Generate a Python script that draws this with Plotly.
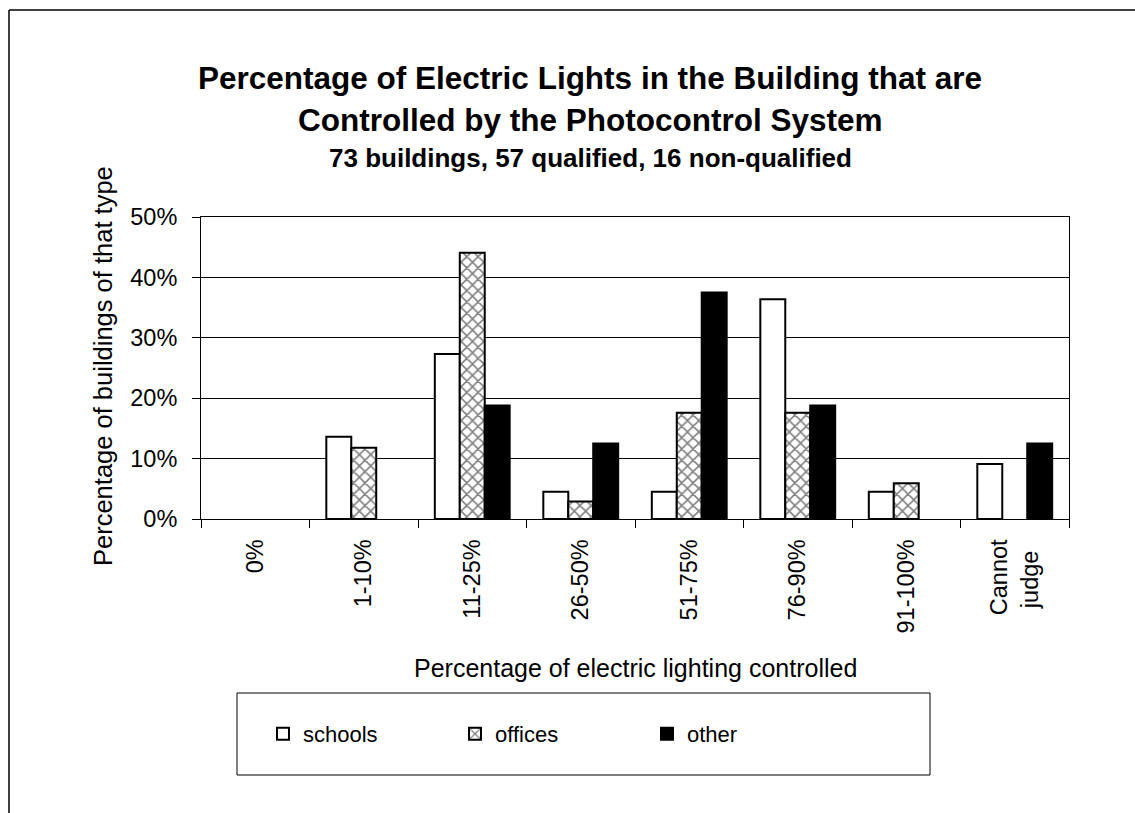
import plotly.graph_objects as go

# Data
categories = ["0%", "1-10%", "11-25%", "26-50%", "51-75%", "76-90%", "91-100%", "Cannot<br>judge"]
schools = [0, 13.6, 27.3, 4.5, 4.5, 36.4, 4.5, 9.1]
offices = [0, 11.8, 44.1, 2.9, 17.6, 17.6, 5.9, 0]
other = [0, 0, 18.8, 12.5, 37.5, 18.8, 0, 12.5]
y_ticks = [0, 10, 20, 30, 40, 50]
y_labels = ["0%", "10%", "20%", "30%", "40%", "50%"]

W, H = 1135, 813
# plot area in pixels
PL, PR, PT, PB = 201, 1069, 217, 519
FONT = "Arial, Liberation Sans, sans-serif"


def px_x(x):
    return (x - PL) / (PR - PL)


def px_y(y):
    return (PB - y) / (PB - PT)


def no_zero(vals):
    # Excel draws nothing for empty categories
    return [v if v else None for v in vals]


# rotated two-line label: pad the short line so both lines look centred
x_ticktext = [c.replace("<br>judge", "<br>judge\u00a0\u2009") for c in categories]

fig = go.Figure()
fig.add_trace(go.Bar(
    x=categories, y=no_zero(schools), name="schools",
    marker=dict(color="white", line=dict(color="black", width=2)),
))
fig.add_trace(go.Bar(
    x=categories, y=no_zero(offices), name="offices",
    marker=dict(color="white", line=dict(color="black", width=2),
                pattern=dict(shape="x", fgcolor="black", bgcolor="white", size=8, solidity=0.35)),
))
fig.add_trace(go.Bar(
    x=categories, y=no_zero(other), name="other",
    marker=dict(color="black", line=dict(color="black", width=2)),
))

fig.update_layout(
    width=W, height=H,
    margin=dict(l=PL, r=W - PR, t=PT, b=H - PB, autoexpand=False),
    paper_bgcolor="white", plot_bgcolor="white",
    font=dict(family=FONT, size=23, color="black"),
    barmode="group", bargap=0.31, bargroupgap=0,
    showlegend=True,
    legend=dict(orientation="h", x=px_x(263), y=px_y(734), xanchor="left", yanchor="middle",
                entrywidth=147, entrywidthmode="pixels",
                font=dict(size=22), bgcolor="rgba(0,0,0,0)", traceorder="normal"),
)

fig.update_xaxes(
    type="category", tickangle=-90, tickson="boundaries",
    tickvals=categories, ticktext=x_ticktext,
    ticks="outside", ticklen=8, tickcolor="black", ticklabelstandoff=10,
    showline=True, linecolor="black", linewidth=1, mirror=True,
    showgrid=False, tickfont=dict(size=23.5),
)
fig.update_yaxes(
    range=[0, 50], tickvals=y_ticks, ticktext=y_labels,
    ticks="outside", ticklen=8, tickcolor="black", ticklabelstandoff=10,
    showline=True, linecolor="black", linewidth=1, mirror=True,
    showgrid=True, gridcolor="black", gridwidth=1, zeroline=False,
    tickfont=dict(size=23.5),
)

# titles
fig.add_annotation(text="<b>Percentage of Electric Lights in the Building that are</b>",
                   x=px_x(590), y=px_y(78), xref="paper", yref="paper",
                   xanchor="center", yanchor="middle", showarrow=False, font=dict(size=31.5))
fig.add_annotation(text="<b>Controlled by the Photocontrol System</b>",
                   x=px_x(590), y=px_y(120), xref="paper", yref="paper",
                   xanchor="center", yanchor="middle", showarrow=False, font=dict(size=31.5))
fig.add_annotation(text="<b>73 buildings, 57 qualified, 16 non-qualified</b>",
                   x=px_x(590), y=px_y(158), xref="paper", yref="paper",
                   xanchor="center", yanchor="middle", showarrow=False, font=dict(size=26))
fig.add_annotation(text="Percentage of buildings of that type", textangle=-90,
                   x=px_x(103), y=px_y(366), xref="paper", yref="paper",
                   xanchor="center", yanchor="middle", showarrow=False, font=dict(size=25.5))
fig.add_annotation(text="Percentage of electric lighting controlled",
                   x=0.5, y=px_y(668), xref="paper", yref="paper",
                   xanchor="center", yanchor="middle", showarrow=False, font=dict(size=25))

# legend frame
fig.add_shape(type="rect", xref="paper", yref="paper",
              x0=px_x(237), x1=px_x(930), y0=px_y(775), y1=px_y(693),
              line=dict(color="black", width=1))
# chart area border (top and left visible)
fig.add_shape(type="line", xref="paper", yref="paper",
              x0=px_x(9), x1=px_x(W + 5), y0=px_y(10), y1=px_y(10),
              line=dict(color="black", width=1.5))
fig.add_shape(type="line", xref="paper", yref="paper",
              x0=px_x(9), x1=px_x(9), y0=px_y(10), y1=px_y(H + 5),
              line=dict(color="black", width=1.5))

fig.write_html("out.html", config={"displayModeBar": False})

with open("out.html", encoding="utf-8") as f:
    html = f.read()
html = html.replace("<body>", '<body style="margin:0;overflow:hidden">', 1)
with open("out.html", "w", encoding="utf-8") as f:
    f.write(html)
